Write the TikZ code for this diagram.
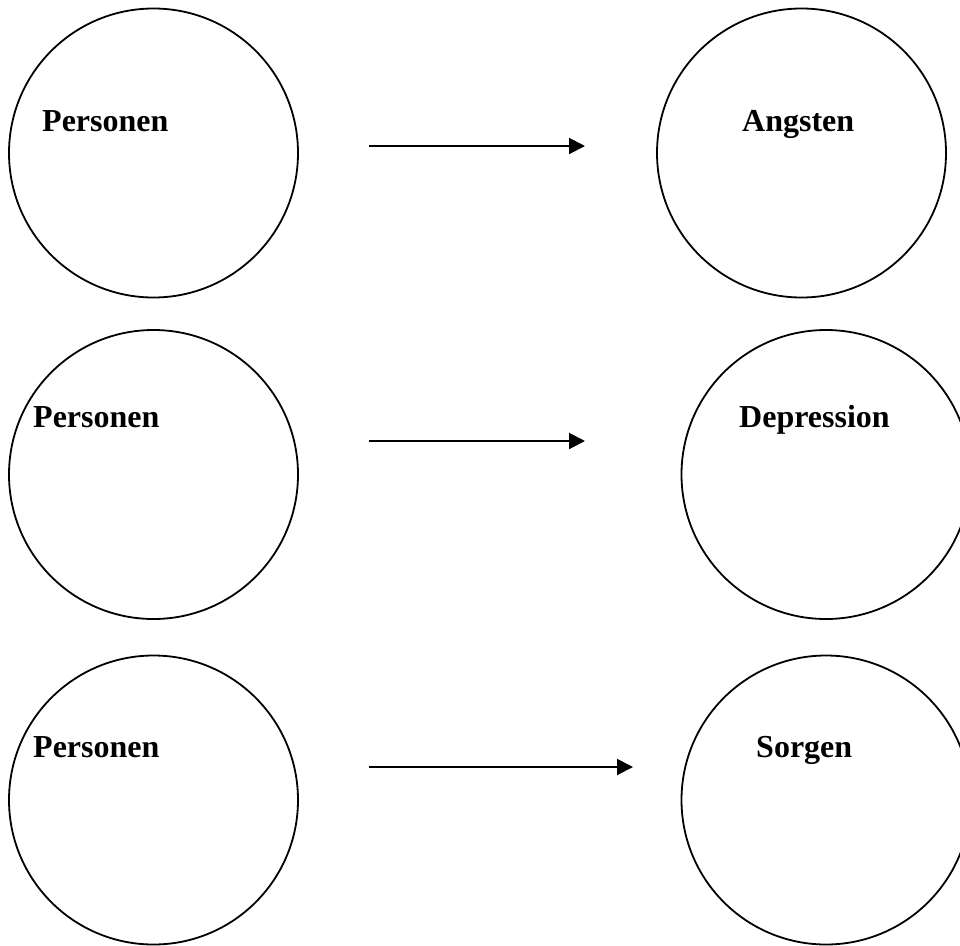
\documentclass[tikz,border=0pt]{standalone}
\usepackage{fontspec}
\setmainfont{Liberation Serif}
\usepackage{tikz}
\usetikzlibrary{arrows.meta}
\tikzset{
  ring/.style={draw, circle, line width=1.8pt, minimum size=289pt, inner sep=0pt},
  lbl/.style={anchor=base west, inner sep=0pt, font=\fontsize{32}{38}\selectfont\bfseries},
  arr/.style={line width=2pt, -{Triangle[length=16pt,width=16pt]}}
}

\begin{document}
\begin{tikzpicture}[x=1pt, y=-1pt]%Personen -> Folgen
\useasboundingbox (0,0) rectangle (960,945);
\clip (0,0) rectangle (960,945);
% circles
  \node [ring] (p1) at (153.5,153) {};
  \node [ring] (angst) at (801.5,153) {};
  \node [ring] (p2) at (153.5,474.5) {};
  \node [ring] (depr) at (826,474.5) {};
  \node [ring] (p3) at (153.5,800) {};
  \node [ring] (sorg) at (826,800) {};
% labels
  \node [lbl] (t1) at (42,131) {Personen};
  \node [lbl] (ta) at (742,131) {Angsten};
  \node [lbl] (t2) at (33,427) {Personen};
  \node [lbl] (td) at (739,427) {Depression};
  \node [lbl] (t3) at (33,757) {Personen};
  \node [lbl] (ts) at (756,757) {Sorgen};
% arrows
  \coordinate (a1) at (369,146);
  \coordinate (b1) at (585,146);
  \coordinate (a2) at (369,441);
  \coordinate (b2) at (585,441);
  \coordinate (a3) at (369,767);
  \coordinate (b3) at (633,767);
  \draw [arr] (a1) -- (b1);
  \draw [arr] (a2) -- (b2);
  \draw [arr] (a3) -- (b3);
\end{tikzpicture}
\end{document}
